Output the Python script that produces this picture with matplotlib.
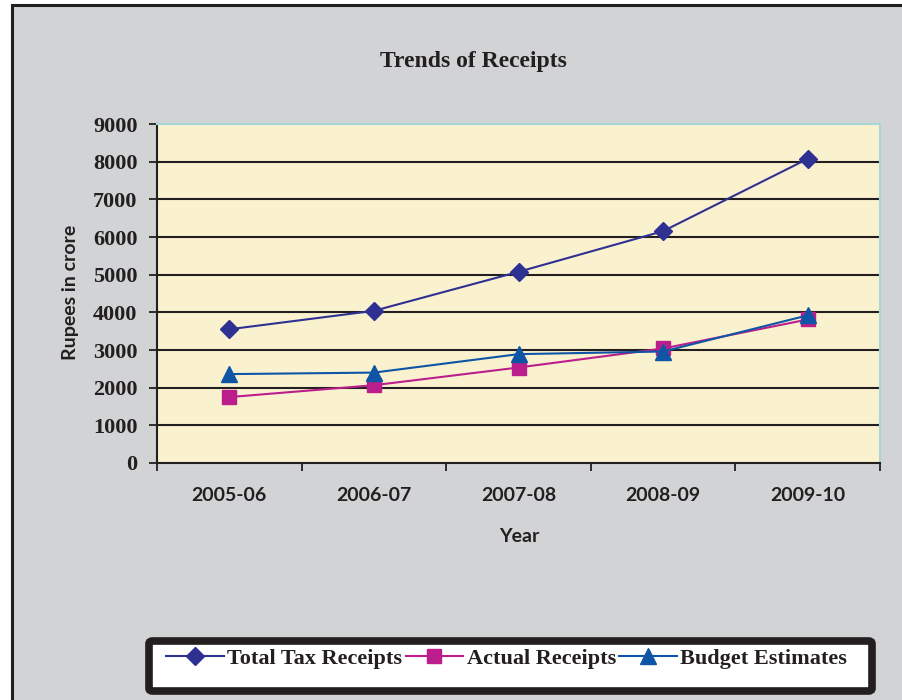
import matplotlib
matplotlib.use("Agg")
import matplotlib.pyplot as plt
from matplotlib.patches import Rectangle, FancyBboxPatch

years = ["2005-06", "2006-07", "2007-08", "2008-09", "2009-10"]
total_tax = [3550, 4040, 5075, 6155, 8075]
actual = [1750, 2065, 2535, 3040, 3810]
budget = [2360, 2400, 2890, 2960, 3920]
yticks = [0, 1000, 2000, 3000, 4000, 5000, 6000, 7000, 8000, 9000]

W, H = 903, 700
fig = plt.figure(figsize=(W / 100, H / 100), dpi=100)
fig.patch.set_facecolor("white")

# outer chart frame
fig.patches.append(Rectangle((12 / W, -0.1), 1.2, 1 - 5 / H + 0.1, transform=fig.transFigure,
                             facecolor="#d2d3d5", edgecolor="#231f20", linewidth=2.2, zorder=-2))

ax = fig.add_axes([157 / W, 1 - 463 / H, (880 - 157) / W, (463 - 124) / H])
ax.set_zorder(1)
ax.set_facecolor("#faf2cf")

x = list(range(len(years)))
serif = "Liberation Serif"
sans = "Lato"

l1, = ax.plot(x, total_tax, color="#2e3192", lw=1.5, marker="D", ms=9.5, label="Total Tax Receipts", zorder=4)
l2, = ax.plot(x, actual, color="#bb1e8c", lw=1.5, marker="s", ms=10, label="Actual Receipts", zorder=4)
l3, = ax.plot(x, budget, color="#0f55a5", lw=1.5, marker="^", ms=11, label="Budget Estimates", zorder=5)

ax.set_xlim(-0.5, len(years) - 0.5)
ax.set_ylim(0, 9000)
ax.set_yticks(yticks)
ax.set_yticklabels([str(v) for v in yticks], fontfamily=serif, fontweight="bold", fontsize=16)
for v in yticks[1:-1]:
    ax.axhline(v, color="#231f20", lw=1.5, zorder=2)

ax.set_xticks([i - 0.5 for i in range(len(years) + 1)])
ax.set_xticklabels([])
ax.set_xticks(x, minor=True)
ax.set_xticklabels(years, minor=True, fontfamily=sans, fontweight="bold", fontsize=14, color="#231f20")
ax.tick_params(axis="x", which="major", direction="out", length=6, width=1.3, color="#231f20")
ax.tick_params(axis="x", which="minor", length=0, pad=17)
ax.tick_params(axis="y", direction="out", length=6, width=1.3, color="#231f20", pad=8, labelcolor="#231f20")

for s in ["left", "bottom"]:
    ax.spines[s].set_color("#231f20")
    ax.spines[s].set_linewidth(1.5)
for s in ["top", "right"]:
    ax.spines[s].set_color("#a9d6d6")
    ax.spines[s].set_linewidth(1.5)

fig.text(473 / W, 1 - 61 / H, "Trends of Receipts", ha="center", va="center",
         fontfamily=serif, fontweight="bold", fontsize=17, color="#231f20")
fig.text(71 / W, 1 - 292 / H, "Rupees in crore", ha="center", va="center", rotation=90,
         fontfamily=sans, fontweight="bold", fontsize=14, color="#231f20")
fig.text(519 / W, 1 - 537 / H, "Year", ha="center", va="center",
         fontfamily=sans, fontweight="bold", fontsize=14, color="#231f20")

# legend frame
fig.patches.append(FancyBboxPatch((149 / W, 1 - 691 / H), (872 - 149) / W, (691 - 641) / H,
                                  boxstyle="round,pad=0,rounding_size=0.004", transform=fig.transFigure,
                                  facecolor="white", edgecolor="#231f20", linewidth=5.5, zorder=-1))
leg = fig.legend(handles=[l1, l2, l3], loc="center left", bbox_to_anchor=(155 / W, 1 - 659 / H),
                 ncol=3, frameon=False, handlelength=2.6, handletextpad=0.15, columnspacing=0.15,
                 borderpad=0, prop={"family": serif, "weight": "bold", "size": 16})
for t in leg.get_texts():
    t.set_color("#231f20")

fig.savefig("out.png", dpi=100)
